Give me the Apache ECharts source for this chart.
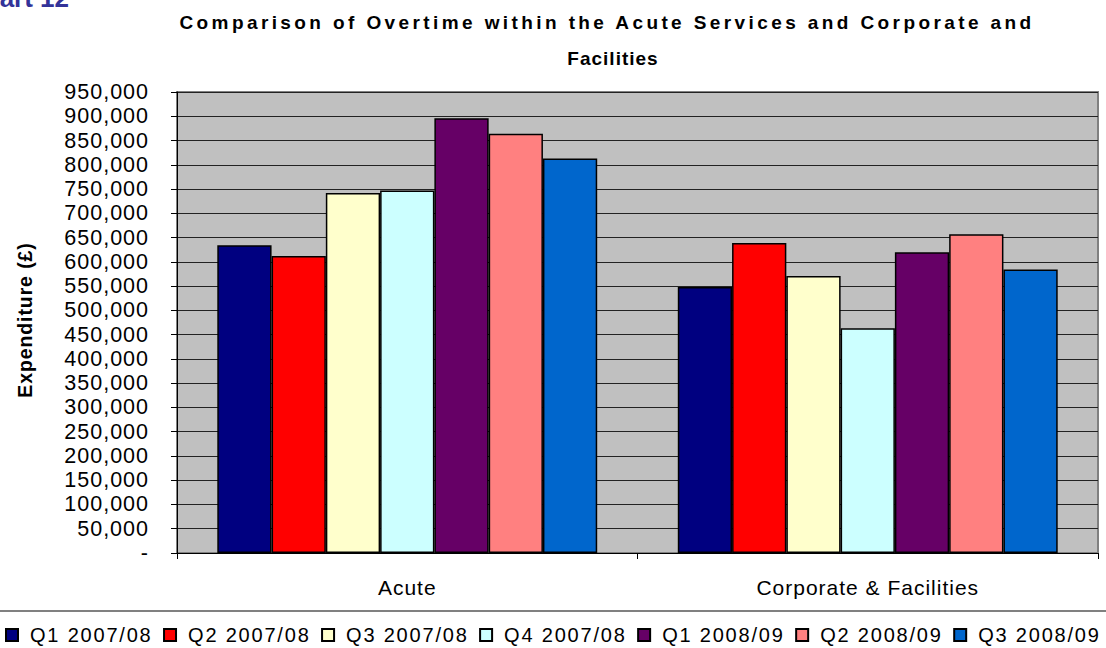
<!DOCTYPE html>
<html>
<head>
<meta charset="utf-8">
<script src="https://cdn.jsdelivr.net/npm/echarts@6/dist/echarts.min.js"></script>
<style>
html,body{margin:0;padding:0;background:#fff;}
#chart{width:1106px;height:648px;}
/* Excel-like wide letter spacing, keyed on font size of each text role */
#chart svg text[style*="19px"]{letter-spacing:3.4px;}      /* title line 1 */
#chart svg text[style*="19.01px"]{letter-spacing:1px;}     /* title line 2 */
#chart svg text[style*="19.5px"]{letter-spacing:0.9px;}    /* y axis title */
#chart svg text[style*="21.5px"]{letter-spacing:1px;}      /* y tick labels */
#chart svg text[style*="21px"]{letter-spacing:1px;}        /* x labels */
#chart svg text[style*="20px"]{letter-spacing:1.8px;}      /* legend */
</style>
</head>
<body>
<div id="chart"></div>
<script>
// ---- data ----
const categories = ['Acute', 'Corporate & Facilities'];
const seriesNames = ['Q1 2007/08', 'Q2 2007/08', 'Q3 2007/08', 'Q4 2007/08', 'Q1 2008/09', 'Q2 2008/09', 'Q3 2008/09'];
const q1_0708 = [634000, 548000];
const q2_0708 = [612000, 639000];
const q3_0708 = [742000, 571000];
const q4_0708 = [747000, 463000];
const q1_0809 = [896000, 620000];
const q2_0809 = [864000, 657000];
const q3_0809 = [813000, 584000];
const yTicks = [0, 50000, 950000]; // min, interval, max
const titleLines = ['Comparison of Overtime within the Acute Services and Corporate and', 'Facilities'];
const yAxisTitle = 'Expenditure (£)';
const chartLabel = 'Chart 12';

// ---- styles ----
const colors = ['#000080', '#FF0000', '#FFFFCC', '#CCFFFF', '#660066', '#FF8080', '#0066CC'];
const seriesData = [q1_0708, q2_0708, q3_0708, q4_0708, q1_0809, q2_0809, q3_0809];
const font = 'Liberation Sans, Arial, sans-serif';

const chart = echarts.init(document.getElementById('chart'), null, {renderer: 'svg'});
chart.setOption({
  animation: false,
  backgroundColor: '#ffffff',
  textStyle: {fontFamily: font},
  graphic: [
    {type: 'text', x: -35, y: 10.5, style: {text: chartLabel, font: 'bold 26px ' + font, fill: '#333399', align: 'left', verticalAlign: 'bottom'}},
    {type: 'text', x: 607, y: 22, style: {text: titleLines[0], font: 'bold 19px ' + font, fill: '#000', align: 'center', verticalAlign: 'middle'}},
    {type: 'text', x: 613, y: 58, style: {text: titleLines[1], font: 'bold 19.01px ' + font, fill: '#000', align: 'center', verticalAlign: 'middle'}},
    {type: 'text', x: 25, y: 320, rotation: Math.PI / 2, style: {text: yAxisTitle, font: 'bold 19.5px ' + font, fill: '#000', align: 'center', verticalAlign: 'middle'}},
    {type: 'line', shape: {x1: 0, y1: 611, x2: 1106, y2: 611}, style: {stroke: '#808080', lineWidth: 2}}
  ],
  grid: {left: 177, right: 8, top: 92, bottom: 95, show: true, backgroundColor: '#c0c0c0', borderColor: '#808080', borderWidth: 2},
  legend: {
    left: 5, top: 625, padding: 0, itemWidth: 12, itemHeight: 12, itemGap: 28.5, icon: 'rect',
    textStyle: {fontSize: 20, color: '#000', fontFamily: font, padding: [0, 0, 0, 7]},
    data: seriesNames
  },
  xAxis: {
    type: 'category', data: categories,
    axisLine: {lineStyle: {color: '#000', width: 1}},
    axisTick: {show: true, length: 6, lineStyle: {color: '#000'}},
    axisLabel: {fontSize: 21, color: '#000', margin: 24, fontFamily: font}
  },
  yAxis: {
    type: 'value', min: yTicks[0], interval: yTicks[1], max: yTicks[2],
    axisLine: {show: true, lineStyle: {color: '#000', width: 1}},
    axisTick: {show: true, length: 6, lineStyle: {color: '#000'}},
    splitLine: {lineStyle: {color: '#222', width: 1}},
    axisLabel: {fontSize: 21.5, color: '#000', margin: 28, fontFamily: font,
      formatter: v => v === 0 ? '-' : v.toLocaleString('en-US')}
  },
  series: seriesNames.map((n, i) => ({
    name: n, type: 'bar', data: seriesData[i],
    barGap: '0%', barCategoryGap: '17.5%',
    itemStyle: {color: colors[i], borderColor: '#000', borderWidth: 1.5}
  }))
});
</script>
</body>
</html>
